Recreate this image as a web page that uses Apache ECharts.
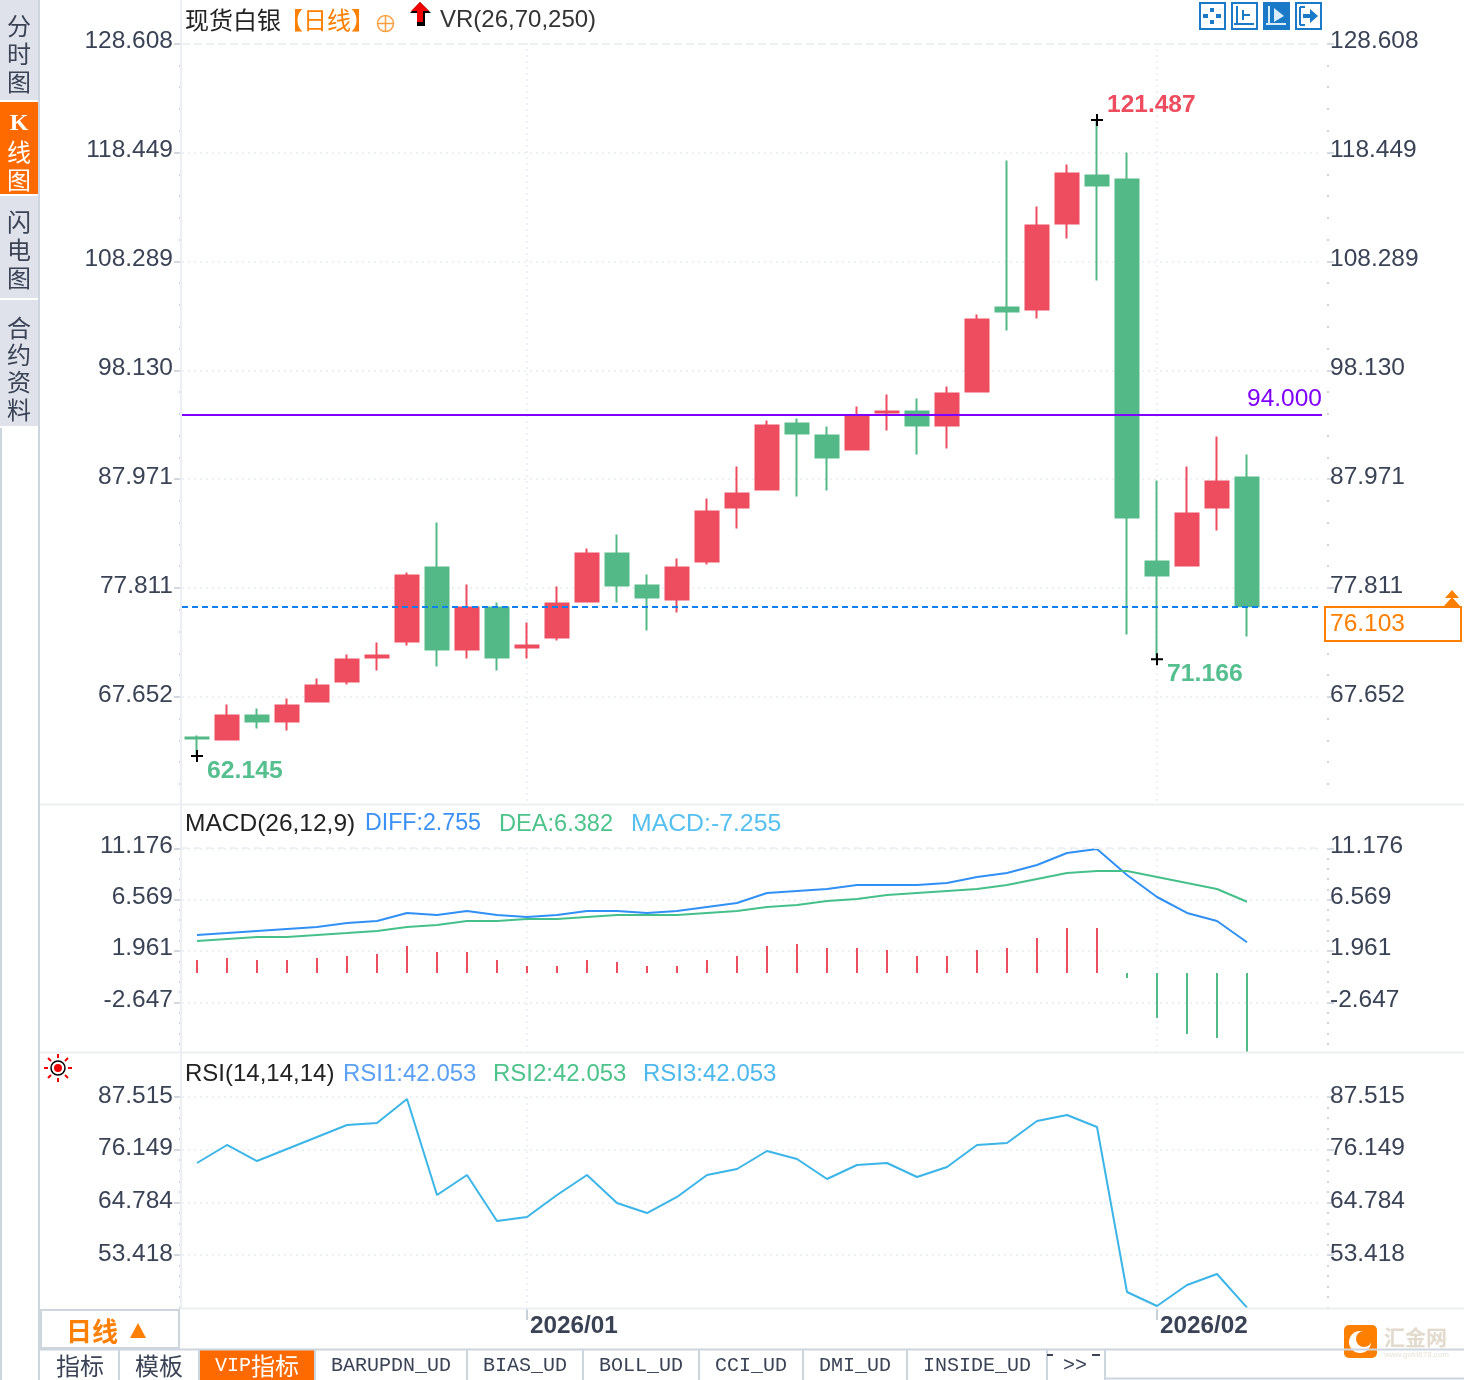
<!DOCTYPE html>
<html><head><meta charset="utf-8">
<style>html,body{margin:0;padding:0;background:#fff}#c{width:1464px;height:1380px}</style>
<script src="https://cdn.jsdelivr.net/npm/echarts@6/dist/echarts.min.js"></script>
</head><body><div id="c"></div>
<script>
// ---------- data ----------
const categories = ['S01','S02','S03','S04','S05','S06','S07','S08','S09','S10','S11','2026/01','S13','S14','S15','S16','S17','S18','S19','S20','S21','S22','S23','S24','S25','S26','S27','S28','S29','S30','S31','S32','2026/02','S34','S35','S36','E1','E2'];
const monthLabels = ['2026/01','2026/02'];
// [open, close, low, high]
const candles = [
[63.87,63.77,62.145,64.05],[63.68,65.92,63.59,66.95],[65.92,65.36,64.71,66.57],[65.36,66.85,64.52,67.51],
[67.23,68.72,67.13,69.37],[69.09,71.15,68.81,71.61],[71.33,71.52,70.12,72.73],[72.83,78.98,72.45,79.26],
[79.73,72.08,70.49,83.93],[72.08,76.00,71.24,78.14],[76.00,71.33,70.12,76.46],[72.26,72.45,71.24,74.60],
[73.20,76.37,72.92,77.96],[76.56,81.04,76.46,81.50],[81.04,78.05,76.46,82.81],[78.05,76.93,73.85,79.08],
[76.74,79.73,75.53,80.57],[80.29,84.96,80.01,86.17],[85.33,86.64,83.37,89.15],[87.01,92.98,86.91,93.45],
[93.17,92.23,86.36,93.63],[92.05,89.99,86.91,92.89],[90.74,93.91,90.65,94.75],[94.19,94.29,92.51,95.87],
[94.29,92.98,90.27,95.50],[92.98,95.97,90.83,96.62],[96.15,102.87,96.06,103.34],[103.99,103.62,101.85,117.71],
[103.80,111.64,102.96,113.41],[111.83,116.49,110.43,117.33],[116.31,115.37,106.51,121.487],[115.93,84.40,73.48,118.45],
[80.29,78.98,71.166,87.85],[79.92,84.77,79.83,89.15],[85.33,87.76,83.18,91.95],[88.13,76.103,73.29,90.27]];
const diff = [3.41,3.58,3.76,3.94,4.12,4.48,4.66,5.38,5.20,5.56,5.20,5.02,5.20,5.56,5.56,5.38,5.56,5.91,6.27,7.17,7.35,7.53,7.89,7.89,7.89,8.06,8.60,8.96,9.68,10.75,11.11,8.78,6.81,5.38,4.66,2.755];
const dea = [2.87,3.05,3.23,3.23,3.41,3.58,3.76,4.12,4.30,4.66,4.66,4.84,4.84,5.02,5.20,5.20,5.20,5.38,5.56,5.91,6.09,6.45,6.63,6.99,7.17,7.35,7.53,7.89,8.42,8.96,9.14,9.14,8.60,8.06,7.53,6.382];
const macdBars = [1.16,1.34,1.16,1.16,1.34,1.52,1.70,2.42,1.88,1.88,1.16,0.63,0.63,1.16,0.99,0.63,0.63,1.16,1.52,2.42,2.60,2.24,2.24,2.06,1.52,1.52,2.06,2.24,3.14,4.03,4.03,-0.45,-4.03,-5.47,-5.82,-7.255];
const rsi = [73.27,77.16,73.70,76.29,78.88,81.47,81.90,87.08,66.37,70.68,60.76,61.62,66.37,70.68,64.64,62.48,65.94,70.68,71.98,75.86,74.14,69.82,72.84,73.27,70.25,72.41,77.16,77.59,82.34,83.63,81.04,45.43,42.41,46.95,49.32,42.053];
const priceTicks = [128.608,118.449,108.289,98.130,87.971,77.811,67.652];
const macdTicks = [11.176,6.569,1.961,-2.647];
const rsiTicks = [87.515,76.149,64.784,53.418];
const lineLevel = 94.000;
const lastPrice = 76.103;
const highMark = [30,121.487], lowMark = [32,71.166], firstLowMark = [0,62.145];
const sideTabs = [['分','时','图'],['K','线','图'],['闪','电','图'],['合','约','资','料']];

// ---------- styles ----------
const RED='#ee4d5f', GREEN='#53b987', AXT='#3a4356', GRID='#eef1f4', ORANGE='#ff7f00', TAB='#dfe2ea', EDGE='#cdd6df', BLUE='#1a7ac8';
const NUM='"Liberation Sans",Arial,sans-serif', CJK='"Noto Sans CJK SC",sans-serif';
const monthOnly = (i,v)=>monthLabels.includes(v);
const dotted = {show:true,interval:monthOnly,alignWithLabel:true,lineStyle:{color:GRID,width:2,type:[2,4]}};
const minor = (ticks,min)=>{const s=(ticks[0]-ticks[1])/5,o=[];for(let v=ticks[0];v>min;v-=s){o.push(+v.toFixed(4))}return o.filter(v=>!ticks.some(t=>Math.abs(t-v)<s/2));};
function yAxes(g,ticks,min,max,lift){
  const out=[];
  [['left',1,8],['right',5,3]].forEach(([pos,off,mg])=>{
    out.push({type:'value',gridIndex:g,position:pos,offset:off,min,max,
      axisLine:{show:false},
      axisTick:{show:true,customValues:ticks,length:7,lineStyle:{color:'#d3d9de',width:2}},
      axisLabel:{show:true,customValues:ticks,margin:mg,verticalAlign:'bottom',lineHeight:lift,color:AXT,fontFamily:NUM,fontSize:24.5,formatter:v=>v.toFixed(3)},
      splitLine:{show:pos==='left',lineStyle:{color:GRID,width:2,type:[2,4]}}});
    out.push({type:'value',gridIndex:g,position:pos,offset:off,min,max,
      axisLine:{show:false},axisLabel:{show:false},splitLine:{show:false},
      axisTick:{show:true,customValues:minor(ticks,min),length:2,lineStyle:{color:'#cdd5da',width:2}}});
  });
  return out;
}
const topDash = v=>({yAxis:v,label:{show:false},lineStyle:{color:GRID,width:2,type:[6,6]}});
const plus = 'path://M5 0h2v5h5v2H7v5H5V7H0V5h5z';
const pointLabel = (c,dy,fs)=>({show:true,position:'right',distance:0,offset:[4,dy],color:c,fontFamily:NUM,fontSize:fs,fontWeight:'bold',formatter:p=>p.data.coord[1].toFixed(3)});

// ---------- page furniture ----------
const G=[];
const T=(x,y,text,fill,size,font,extra)=>G.push({type:'text',silent:true,z:5,style:Object.assign({x,y,text,fill,font:(extra&&extra.w?extra.w+' ':'')+size+'px '+font,verticalAlign:'middle',align:(extra&&extra.a)||'left'})});
const R=(x,y,w,h,fill,stroke,lw)=>G.push({type:'rect',silent:true,z:(fill==='none'||stroke)?5:1,shape:{x,y,width:w,height:h},style:{fill:fill||'none',stroke:stroke||null,lineWidth:lw||0}});
const L=(x1,y1,x2,y2,c,lw)=>G.push({type:'line',silent:true,z:6,shape:{x1,y1,x2,y2},style:{stroke:c,lineWidth:lw||2}});
const P=(pts,fill)=>G.push({type:'polygon',silent:true,z:7,shape:{points:pts},style:{fill}});

// side tabs
R(0,0,38,100,TAB); R(0,102,38,92,'#ff6a00'); R(0,196,38,102,TAB); R(0,300,38,126,TAB);
L(1,428,1,1380,EDGE,2); L(39,0,39,1380,EDGE,2);
[[26,54,82],[124,152,180],[222,250,278],[328,355,382,410]].forEach((ys,i)=>ys.forEach((y,j)=>T(19,y,sideTabs[i][j],i===1?'#fff':AXT,24,i===1&&j===0?'"Liberation Serif",serif':CJK,{a:'center',w:i===1&&j===0?'bold':''})));
// panel frame
L(181,0,181,1308,'#ebeff3',2);
L(40,804.5,1464,804.5,'#ebeff3',2); L(40,1052.5,1464,1052.5,'#ebeff3',2); L(180,1308.5,1464,1308.5,'#ebeff3',2);
// main header
T(185,20,'现货白银','#222',24,CJK);
T(279,20,'【日线】',ORANGE,24,CJK);
G.push({type:'circle',silent:true,z:5,shape:{cx:385.5,cy:23.5,r:8},style:{fill:'none',stroke:'#ffa040',lineWidth:1.5}});
L(377,23.5,394,23.5,'#ffa040',1.5); L(385.5,15,385.5,32,'#ffa040',1.5);
P([[420,2],[431,13],[425,13],[425,26],[417,26],[417,13],[410,13]],'#000');
P([[420,2],[429,11],[423,11],[423,22],[417,22],[417,11],[411,11]],'#f00000');
T(440,20,'VR(26,70,250)','#333',24,NUM);
// tool buttons
[1199,1231,1263,1295].forEach((x,i)=>{R(x+1,3,25,26,i===2?BLUE:'#fff',BLUE,2);});
[[1212,8,1212,12],[1212,20,1212,24],[1203,16,1208,16],[1216,16,1221,16]].forEach(a=>{L(a[0],a[1],a[2],a[3],BLUE,4);});
L(1237,6,1237,24,BLUE,2);L(1234,24,1254,24,BLUE,2);L(1243,10,1243,20,BLUE,2);L(1243,15,1250,15,BLUE,2);
L(1269,6,1269,24,'#d8ecfa',2);L(1266,24,1286,24,'#d8ecfa',2);P([[1274,8],[1284,16],[1274,22]],'#d8ecfa');
L(1300,7,1300,25,BLUE,2);L(1300,7,1305,7,BLUE,2);L(1300,25,1305,25,BLUE,2);L(1303,16,1311,16,BLUE,4);P([[1310,9],[1318,16],[1310,23]],BLUE);
// MACD / RSI legends
T(185,824,'MACD(26,12,9)','#222',24.5,NUM);
T(365,824,'DIFF:2.755','#3b90f5',23.2,NUM); T(499,824,'DEA:6.382','#4cc38a',23.6,NUM); T(631,824,'MACD:-7.255','#55c0f0',24.8,NUM);
T(185,1074,'RSI(14,14,14)','#222',24,NUM);
T(343,1074,'RSI1:42.053','#5ba0f5',24,NUM); T(493,1074,'RSI2:42.053','#4cc38a',24,NUM); T(643,1074,'RSI3:42.053','#4cb8ec',24,NUM);
// sun icon
G.push({type:'circle',silent:true,z:5,shape:{cx:58,cy:1068,r:7},style:{fill:'#fff',stroke:'#000',lineWidth:1.5}});
G.push({type:'circle',silent:true,z:6,shape:{cx:58,cy:1068,r:4},style:{fill:'#f00000'}});
[[58,1054,58,1058],[58,1078,58,1082],[44,1068,48,1068],[68,1068,72,1068],[48,1058,51,1061],[65,1075,68,1078],[48,1078,51,1075],[65,1061,68,1058]].forEach(a=>L(a[0],a[1],a[2],a[3],'#f00000',2));
// last price box
R(1325,607,136,34,'#fff',ORANGE,2);
T(1330,624,lastPrice.toFixed(3),ORANGE,24.5,NUM);
P([[1452,590],[1459,598],[1445,598]],ORANGE); P([[1452,597],[1460,606],[1444,606]],ORANGE);
// period box
R(41,1310,138,38,'#fff',EDGE,2);
T(66,1331,'日线',ORANGE,26,CJK,{w:'bold'});
P([[138,1323],[146,1338],[130,1338]],ORANGE);
// bottom tabs
L(40,1349.5,1464,1349.5,EDGE,2); L(1105,1378.5,1464,1378.5,EDGE,2);
R(200,1349,114,31,'#ff6a00');
[119,199,315,467,583,699,803,907,1047,1105].forEach(x=>L(x,1350,x,1380,EDGE,2));
T(80,1366,'指标',AXT,24,CJK,{a:'center'}); T(159,1366,'模板',AXT,24,CJK,{a:'center'});
T(215,1366,'VIP',"#fff",20,'"Liberation Mono",monospace'); T(251,1366,'指标','#fff',24,CJK);
[['BARUPDN_UD',331],['BIAS_UD',483],['BOLL_UD',599],['CCI_UD',715],['DMI_UD',819],['INSIDE_UD',923],['>>',1063]].forEach(a=>T(a[1],1366,a[0],AXT,20,'"Liberation Mono",monospace'));
L(1047,1355,1053,1355,AXT,2); L(1092,1355,1100,1355,AXT,2);
// watermark
R(1344,1325,33,33,ORANGE); G[G.length-1].shape.r=5;
G.push({type:'circle',silent:true,z:5,shape:{cx:1360,cy:1342,r:11},style:{fill:'#fff'}});
G.push({type:'circle',silent:true,z:6,shape:{cx:1364,cy:1339,r:8},style:{fill:ORANGE}});
T(1384,1337,'汇金网','#e2dacd',21,CJK,{w:'bold'});
T(1384,1355,'www.gold678.com','#e8e2d8',8,NUM);

// ---------- chart ----------
const chart=echarts.init(document.getElementById('c'),null,{renderer:'canvas',width:1464,height:1380});
const gridAt=(top,height)=>({left:182,width:1140,top,height});
const xAt=(g,bottom)=>({type:'category',gridIndex:g,data:categories,boundaryGap:true,
  axisLine:{show:false},
  axisTick:{show:!!bottom,interval:monthOnly,alignWithLabel:true,length:12,lineStyle:{color:'#c8d0d8',width:2}},
  axisLabel:{show:!!bottom,interval:monthOnly,align:'left',margin:6,padding:[0,0,0,3],color:AXT,fontFamily:NUM,fontSize:24.3,fontWeight:'bold',hideOverlap:false},
  splitLine:dotted});
chart.setOption({
  animation:false,backgroundColor:'#fff',
  grid:[gridAt(43,761),gridAt(847,205),gridAt(1097,211)],
  xAxis:[xAt(0),xAt(1),xAt(2,true)],
  yAxis:[...yAxes(0,priceTicks,57.659,128.668,4),...yAxes(1,macdTicks,-7.08,11.29,5),...yAxes(2,rsiTicks,41.98,87.515,2)],
  graphic:{elements:G},
  series:[
    {type:'candlestick',name:'K',xAxisIndex:0,yAxisIndex:0,data:candles,barWidth:24,z:3,
     itemStyle:{color:RED,color0:GREEN,borderColor:RED,borderColor0:GREEN,borderWidth:2},
     markLine:{silent:true,symbol:'none',animation:false,data:[
       topDash(priceTicks[0]),
       {yAxis:lineLevel,lineStyle:{color:'#8000ff',width:2,type:'solid'},label:{show:true,position:'insideEndTop',distance:3,offset:[3,0],color:'#8000ff',fontFamily:NUM,fontSize:24.5,formatter:()=>lineLevel.toFixed(3)}},
       {yAxis:lastPrice,lineStyle:{color:'#1080f0',width:2,type:[6,4]},label:{show:false}}]},
     markPoint:{silent:true,animation:false,symbol:plus,symbolSize:12,itemStyle:{color:'#000'},data:[
       {coord:highMark,label:pointLabel(RED,-15,24.5)},
       {coord:lowMark,label:pointLabel('#55bf8f',15,24.8)},
       {coord:firstLowMark,label:pointLabel('#55bf8f',15,24.8)}]}},
    {type:'bar',name:'MACD',xAxisIndex:1,yAxisIndex:4,data:macdBars,barWidth:2,z:2,
     itemStyle:{color:p=>p.value>=0?RED:GREEN}},
    {type:'line',name:'DIFF',xAxisIndex:1,yAxisIndex:4,data:diff,showSymbol:false,lineStyle:{color:'#3090f5',width:2},z:3,
     markLine:{silent:true,symbol:'none',animation:false,data:[topDash(macdTicks[0])]}},
    {type:'line',name:'DEA',xAxisIndex:1,yAxisIndex:4,data:dea,showSymbol:false,lineStyle:{color:'#45c08a',width:2},z:3},
    {type:'line',name:'RSI',xAxisIndex:2,yAxisIndex:8,data:rsi,showSymbol:false,lineStyle:{color:'#3bb5e8',width:2},z:3,
     markLine:{silent:true,symbol:'none',animation:false,data:[topDash(rsiTicks[0])]}}
  ]
});
</script></body></html>
